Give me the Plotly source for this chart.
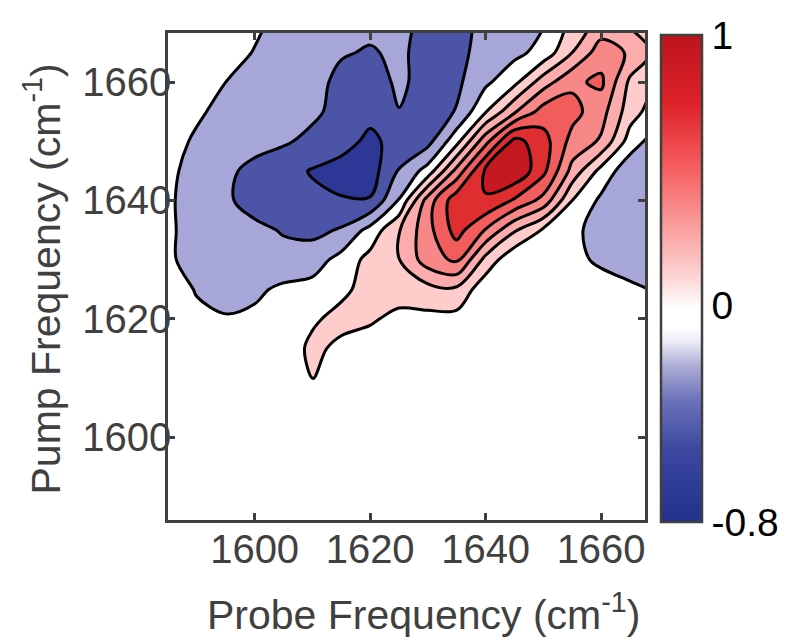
import plotly.graph_objects as go

# Probe (x) and pump (y) frequency grid, cm^-1
probe_freq = [1585, 1590, 1595, 1600, 1605, 1610, 1615, 1620, 1625,
              1630, 1635, 1640, 1645, 1650, 1655, 1660, 1665, 1670]
pump_freq = [1585, 1590, 1595, 1600, 1605, 1610, 1615, 1620, 1625,
             1630, 1635, 1640, 1645, 1650, 1655, 1660, 1665, 1670]

# Normalised 2D IR signal, one row per pump frequency
row_1585 = [0.0, 0.01, 0.0, 0.01, 0.0, 0.0, 0.01, 0.02, 0.0, 0.0, 0.01, 0.0, 0.0, 0.01, 0.0, 0.0, 0.0, 0.0]
row_1590 = [0.0, 0.0, 0.01, 0.0, 0.0, 0.01, 0.02, 0.02, 0.01, 0.0, 0.0, 0.0, 0.0, 0.0, 0.0, 0.0, 0.0, 0.0]
row_1595 = [0.0, 0.0, 0.0, 0.0, 0.01, 0.02, 0.02, 0.01, 0.01, 0.0, 0.0, 0.0, 0.0, 0.0, 0.0, 0.0, 0.0, 0.0]
row_1600 = [0.0, 0.0, 0.0, 0.0, 0.01, 0.02, 0.02, 0.02, 0.01, 0.01, 0.0, 0.0, 0.0, 0.0, 0.0, 0.0, 0.0, 0.0]
row_1605 = [0.0, 0.0, 0.0, 0.0, 0.0, 0.04, 0.02, 0.02, 0.01, 0.01, 0.0, 0.0, 0.0, 0.0, 0.0, 0.0, 0.0, 0.0]
row_1610 = [0.0, 0.0, 0.0, 0.0, 0.0, 0.105, 0.03, 0.02, 0.01, 0.01, 0.01, 0.0, 0.0, 0.0, 0.0, 0.0, 0.0, 0.0]
row_1615 = [0.0, 0.0, 0.0, 0.0, 0.02, 0.13, 0.07, 0.03, 0.01, 0.0, 0.0, 0.0, 0.0, 0.0, 0.0, 0.0, 0.0, 0.0]
row_1620 = [0.0, -0.02, -0.04, -0.02, 0.0, 0.08, 0.14, 0.12, 0.06, 0.06, 0.05, -0.01, 0.0, 0.0, 0.0, 0.0, 0.0, -0.02]
row_1625 = [0.02, -0.06, -0.1, -0.08, -0.02, 0.0, 0.07, 0.15, 0.17, 0.2, 0.22, 0.0, -0.01, 0.0, 0.0, 0.0, -0.02, -0.07]
row_1630 = [-0.03, -0.1, -0.13, -0.15, -0.16, -0.12, 0.0, 0.15, 0.245, 0.48, 0.58, 0.2, -0.02, 0.0, -0.02, -0.07, -0.13, -0.14]
row_1635 = [-0.03, -0.1, -0.14, -0.17, -0.21, -0.24, -0.185, 0.0, 0.24, 0.5, 0.76, 0.54, 0.27, 0.08, -0.02, -0.1, -0.14, -0.13]
row_1640 = [-0.03, -0.11, -0.18, -0.25, -0.29, -0.32, -0.34, -0.34, -0.04, 0.47, 0.8, 0.84, 0.68, 0.5, 0.1, -0.08, -0.17, -0.16]
row_1645 = [-0.02, -0.1, -0.17, -0.24, -0.3, -0.36, -0.4, -0.42, -0.19, 0.01, 0.45, 0.88, 0.98, 0.74, 0.35, 0.05, -0.15, -0.15]
row_1650 = [0.0, -0.07, -0.12, -0.15, -0.18, -0.24, -0.3, -0.38, -0.3, -0.25, 0.05, 0.5, 0.9, 0.76, 0.5, 0.38, 0.03, -0.14]
row_1655 = [0.02, -0.03, -0.09, -0.13, -0.16, -0.17, -0.25, -0.31, -0.205, -0.28, -0.19, 0.09, 0.38, 0.62, 0.6, 0.46, 0.17, 0.0]
row_1660 = [0.03, 0.0, -0.05, -0.1, -0.14, -0.16, -0.23, -0.28, -0.17, -0.26, -0.23, -0.08, 0.06, 0.33, 0.52, 0.58, 0.22, 0.08]
row_1665 = [0.03, 0.01, -0.01, -0.055, -0.12, -0.16, -0.19, -0.21, -0.18, -0.24, -0.23, -0.16, -0.09, 0.0, 0.25, 0.48, 0.38, 0.2]
row_1670 = [0.02, 0.01, 0.0, -0.03, -0.08, -0.14, -0.17, -0.17, -0.18, -0.22, -0.24, -0.17, -0.1, -0.06, 0.14, 0.3, 0.22, 0.15]

signal = [row_1585, row_1590, row_1595, row_1600, row_1605, row_1610,
          row_1615, row_1620, row_1625, row_1630, row_1635, row_1640,
          row_1645, row_1650, row_1655, row_1660, row_1665, row_1670]

colorbar_ticks = [-0.8, 0, 1]
colorbar_ticktext = ["-0.8", "0", "1"]
axis_ticks = [1600, 1620, 1640, 1660]

# fill colours of the contour bands (lowest to highest)
band_colors = ["rgb(45,55,150)", "rgb(76,84,168)", "rgb(166,166,216)",
               "rgb(255,255,255)", "rgb(255,204,204)", "rgb(252,172,172)",
               "rgb(248,135,135)", "rgb(241,92,92)", "rgb(222,46,48)",
               "rgb(198,24,32)"]
n_bands = len(band_colors) - 1
fill_scale = [[i / n_bands, c] for i, c in enumerate(band_colors)]

bar_scale = [
    [0.0, "rgb(34,48,140)"],
    [0.15, "rgb(60,72,160)"],
    [0.25, "rgb(108,114,186)"],
    [0.32, "rgb(172,172,214)"],
    [0.37, "rgb(235,235,248)"],
    [0.40, "rgb(255,255,255)"],
    [0.44, "rgb(255,255,255)"],
    [0.50, "rgb(253,214,214)"],
    [0.62, "rgb(250,150,150)"],
    [0.74, "rgb(244,88,90)"],
    [0.86, "rgb(222,34,40)"],
    [1.0, "rgb(190,20,30)"],
]

axis_color = "rgb(64,64,64)"
font_family = "Liberation Sans, Arial, Helvetica, sans-serif"

fig = go.Figure()
fig.add_trace(go.Contour(
    x=probe_freq, y=pump_freq, z=signal,
    contours=dict(start=-0.35, end=0.85, size=0.15, coloring="fill"),
    colorscale=fill_scale,
    line=dict(color="black", width=3, smoothing=1.0),
    showscale=False,
    hoverinfo="x+y+z",
))
fig.add_trace(go.Scatter(
    x=[None, None], y=[None, None], mode="markers", showlegend=False,
    marker=dict(color=[-0.8, 1], cmin=-0.8, cmax=1, colorscale=bar_scale,
                showscale=True,
                colorbar=dict(
                    x=(661 - 168) / 477, xanchor="left", xpad=0,
                    y=0.4959, yanchor="middle", len=1.0, ypad=0,
                    thickness=41, thicknessmode="pixels",
                    outlinecolor=axis_color, outlinewidth=2.5,
                    tickvals=colorbar_ticks, ticktext=colorbar_ticktext,
                    ticks="", tickfont=dict(size=39, color="black", family=font_family),
                )),
))

axis_common = dict(
    showgrid=False, zeroline=False, showline=True, linecolor=axis_color,
    linewidth=2.5, mirror="ticks", ticks="inside", ticklen=7, tickwidth=2.5,
    tickcolor=axis_color, tickvals=axis_ticks,
    tickfont=dict(size=40, color=axis_color, family=font_family),
)
fig.update_xaxes(range=[1585, 1667.6], ticklabelstandoff=-8, **axis_common)
fig.update_yaxes(range=[1586, 1668.3], ticklabelstandoff=-14, **axis_common)

fig.update_layout(
    width=788, height=643,
    margin=dict(l=168, r=143, t=33, b=123, autoexpand=False),
    plot_bgcolor="white", paper_bgcolor="white",
    showlegend=False,
    annotations=[
        dict(text="Probe Frequency (cm<sup>-1</sup>)", xref="paper", yref="paper",
             x=(423.5 - 168) / 477, y=(520 - 612) / 487, xanchor="center",
             yanchor="middle", showarrow=False,
             font=dict(size=41, color=axis_color, family=font_family)),
        dict(text="Pump Frequency (cm<sup>-1</sup>)", xref="paper", yref="paper",
             x=(42 - 168) / 477, y=(520 - 279.5) / 487, xanchor="center",
             yanchor="middle", textangle=-90, showarrow=False,
             font=dict(size=41, color=axis_color, family=font_family)),
    ],
)

fig.write_html("out.html", config={"displayModeBar": False},
               post_script="document.body.style.margin='0px';")
